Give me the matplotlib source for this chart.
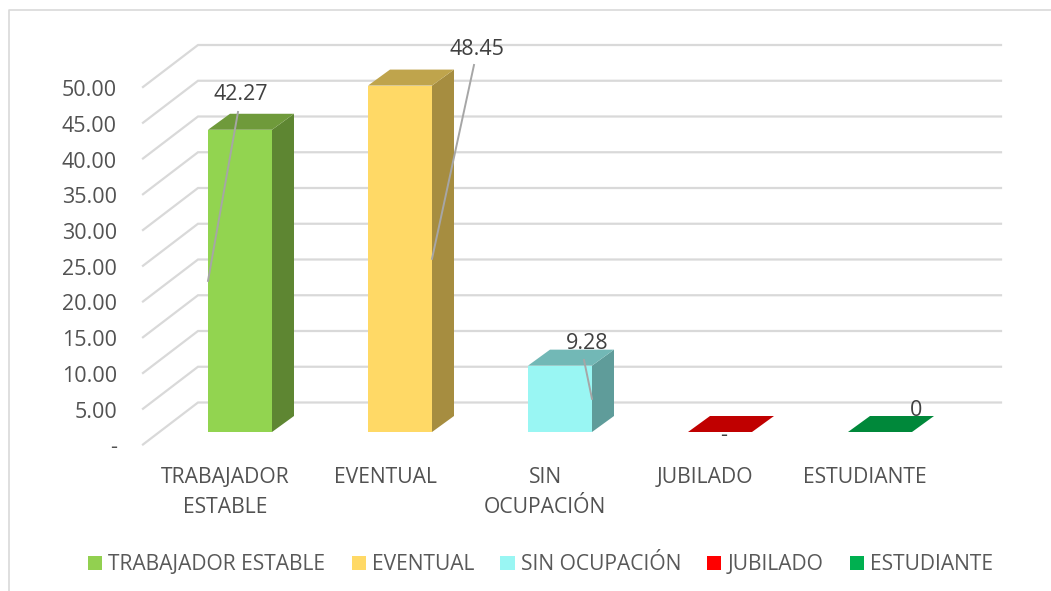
import matplotlib
matplotlib.use('Agg')
from matplotlib import pyplot as plt
from matplotlib.patches import Patch, Polygon

W, H = 1051, 591

categories = ['TRABAJADOR\nESTABLE', 'EVENTUAL', 'SIN\nOCUPACIÓN', 'JUBILADO', 'ESTUDIANTE']
legend_names = ['TRABAJADOR ESTABLE', 'EVENTUAL', 'SIN OCUPACIÓN', 'JUBILADO', 'ESTUDIANTE']
values = [42.27, 48.45, 9.28, 0, 0]
value_labels = ['42.27', '48.45', '9.28', '-', '0']
y_ticks = [0, 5, 10, 15, 20, 25, 30, 35, 40, 45, 50]
y_tick_labels = ['-', '5.00', '10.00', '15.00', '20.00', '25.00', '30.00', '35.00', '40.00', '45.00', '50.00']

face_colors = ['#92D450', '#FFD966', '#99F6F3', '#C00000', '#00883A']
top_colors = ['#6F9A3B', '#BFA44C', '#72B8B6', '#C00000', '#00883A']
side_colors = ['#5E8632', '#A68D40', '#5F9C9A', '#A00000', '#007030']
legend_colors = ['#92D050', '#FFD966', '#99F6F3', '#FF0000', '#00B050']

PX_X = 160.0   # pixels per category
PX_Y = 7.15    # pixels per value unit
X0 = 240       # pixel of first category
Y0 = 432       # pixel of value 0 at bar front
BAR_W = 0.4
DEPTH_X = 22 / PX_X
DEPTH_Y = 16 / PX_Y
TEXT = '#404040'
AXIS_TEXT = '#525252'
GRID = '#D9D9D9'


def px_x(p):
    return (p - X0) / PX_X


def px_y(p):
    return (Y0 - p) / PX_Y


plt.rcParams['font.family'] = ['Open Sans', 'DejaVu Sans']

fig = plt.figure(figsize=(W / 100, H / 100), dpi=100)
ax = fig.add_axes([0, 0, 1, 1])
ax.set_xlim(px_x(0), px_x(W))
ax.set_ylim(px_y(H), px_y(0))
ax.axis('off')

# chart border, open on the right
ax.plot([px_x(9), px_x(9), px_x(W)], [px_y(H), px_y(10), px_y(10)], color=GRID, lw=1.2)

# back wall and side wall grid
wall_left = px_x(198)
wall_right = px_x(1001)
front_left = px_x(143)
wall_dy = 29.5 / PX_Y
front_dy = -12.5 / PX_Y
for v, lab in zip(y_ticks, y_tick_labels):
    ax.plot([front_left, wall_left, wall_right], [v + front_dy, v + wall_dy, v + wall_dy],
            color=GRID, lw=1.6, solid_joinstyle='miter', zorder=1)
    ax.text(px_x(117), v + front_dy - 9 / PX_Y, lab, ha='right', va='baseline',
            fontsize=15.5, color=AXIS_TEXT)

# bars
for i, v in enumerate(values):
    l, r = i - BAR_W / 2, i + BAR_W / 2
    ax.add_patch(Polygon([(r, 0), (r + DEPTH_X, DEPTH_Y), (r + DEPTH_X, v + DEPTH_Y), (r, v)],
                         fc=side_colors[i], ec='none', zorder=2))
    ax.add_patch(Polygon([(l, v), (r, v), (r + DEPTH_X, v + DEPTH_Y), (l + DEPTH_X, v + DEPTH_Y)],
                         fc=top_colors[i], ec='none', zorder=3))
    if v > 0:
        ax.bar(i, v, width=BAR_W, color=face_colors[i], zorder=3)

# data labels with leader lines, anchored at half bar height
label_x = [241, 477, 587, 724, 916]
label_base = [100, 55, 349, 440.5, 416]
anchor_edges = [-BAR_W / 2, BAR_W / 2, BAR_W / 2]
leader_ends = [(238, 112), (474, 65), (584, 360)]
for i in range(3):
    ax.plot([i + anchor_edges[i], px_x(leader_ends[i][0])],
            [values[i] / 2, px_y(leader_ends[i][1])],
            color='#A6A6A6', lw=1.4, zorder=4)
for i, lab in enumerate(value_labels):
    ax.text(px_x(label_x[i]), px_y(label_base[i]), lab,
            ha='center', va='baseline', fontsize=15.5, color=TEXT, zorder=5)

# category labels
for i, c in enumerate(categories):
    ax.text(i - 15 / PX_X, px_y(467), c, ha='center', va='top', fontsize=15.2, color=AXIS_TEXT,
            linespacing=1.58)

handles = [Patch(fc=c, ec='none') for c in legend_colors]
ax.legend(handles, legend_names, loc='center', bbox_to_anchor=(540.5 / W, 1 - 565 / H), ncol=5,
          frameon=False, fontsize=15.1, labelcolor='#595959', handlelength=0.67, handleheight=0.67,
          handletextpad=0.29, columnspacing=1.26)

fig.savefig('out.png', dpi=100)
